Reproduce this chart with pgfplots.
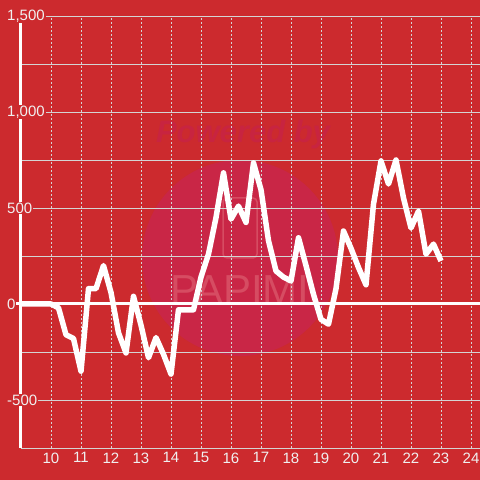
\documentclass[border=0pt]{standalone}
\usepackage{pgfplots}
\pgfplotsset{compat=1.18}
\usepackage{fontspec}
\setmainfont{Liberation Sans}
\definecolor{bg}{RGB}{204,42,46}
\definecolor{gridc}{RGB}{212,212,212}
\definecolor{wm}{RGB}{201,38,70}
\definecolor{wmt}{RGB}{200,36,64}
\definecolor{wml}{RGB}{214,76,98}
\definecolor{lbl}{RGB}{240,240,240}
\begin{document}
\begin{tikzpicture}[x=1pt,y=1pt]
\useasboundingbox (-21,-32) rectangle (459,448);
\fill[bg] (-21,-32) rectangle (459,448);
\clip (-21,-32) rectangle (459,448);
\fill[wm] (219,190) circle (98);
\node[font=\bfseries\itshape\fontsize{31}{33}\selectfont, text=wmt] at (222,314) {Powered by};
\draw[wml, line width=1.5pt, rounded corners=4pt] (202,190) rectangle (236,250);
\node[font=\fontsize{42}{44}\selectfont, text=wml] at (219,158) {PAPIMI};
\begin{axis}[
  at={(0,0)}, anchor=south west,
  scale only axis, width=459pt, height=432pt,
  xmin=9, xmax=24.3, ymin=-750, ymax=1500,
  clip=false,
  axis y line*=left, axis x line*=bottom,
  y axis line style={white, line width=3pt},
  x axis line style={gridc, line width=0.8pt},
  xtick={10,...,24},
  ytick={-500,0,500,1000,1500},
  minor ytick={-750,-250,250,750,1250},
  xmajorgrids, ymajorgrids, yminorgrids,
  major x grid style={gridc, dash pattern=on 2pt off 2pt, line width=0.8pt},
  major y grid style={gridc, line width=0.8pt},
  minor y grid style={gridc, line width=0.8pt},
  tick style={draw=none},
  major tick length=0pt, minor tick length=0pt,
  /pgf/number format/assume math mode=true,
  /pgf/number format/1000 sep={,},
  ticklabel style={font=\fontsize{15}{17}\selectfont, text=lbl},
  yticklabel style={anchor=west, fill=bg, inner sep=1pt, xshift=-15pt},
  xticklabel style={yshift=-1pt},
]
\addplot[white, line width=3pt, forget plot] coordinates {(8.85,0) (24.3,0)};
\addplot[white, line width=5.5pt, line join=round] coordinates {
(9,0) (9.25,0) (9.5,0) (9.75,0) (10,0) (10.25,-20) (10.5,-160) (10.75,-180)
(11,-350) (11.25,80) (11.5,80) (11.75,200) (12,60) (12.25,-150) (12.5,-255) (12.75,40)
(13,-110) (13.25,-280) (13.5,-175) (13.75,-262) (14,-365) (14.25,-30) (14.5,-30) (14.75,-30)
(15,140) (15.25,260) (15.5,450) (15.75,683) (16,442) (16.25,510) (16.5,425) (16.75,735)
(17,595) (17.25,330) (17.5,172) (17.75,140) (18,120) (18.25,345) (18.5,200) (18.75,50)
(19,-80) (19.25,-105) (19.5,80) (19.75,380) (20,290) (20.25,190) (20.5,100) (20.75,520)
(21,745) (21.25,625) (21.5,750) (21.75,552) (22,396) (22.25,484) (22.5,260) (22.75,312)
(23,224)
};
\end{axis}
\end{tikzpicture}
\end{document}
